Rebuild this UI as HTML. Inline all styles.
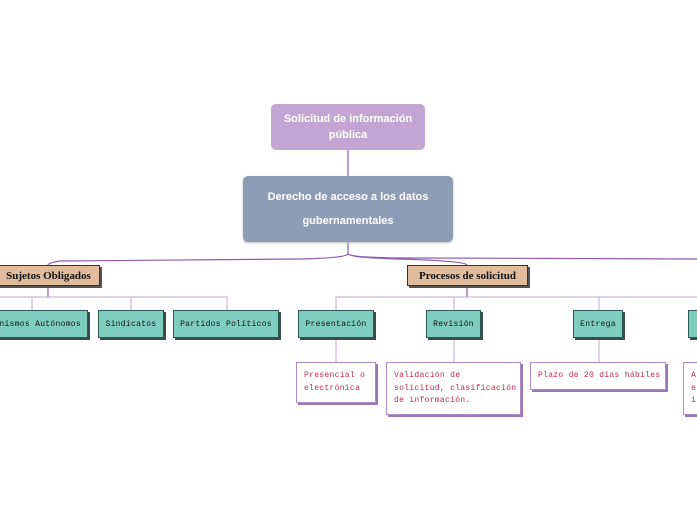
<!DOCTYPE html>
<html><head><meta charset="utf-8"><style>
body{margin:0;width:697px;height:520px;background:#fff;position:relative;overflow:hidden;font-family:"Liberation Sans",sans-serif}
.a{position:absolute;box-sizing:border-box;display:flex;align-items:center;justify-content:center;text-align:center;white-space:nowrap}
.top{left:271px;top:104px;width:154px;height:46px;background:#c3a5d3;border-radius:5px;color:#fff;font-weight:bold;font-size:11px;line-height:16px}
.main{left:243px;top:176px;width:210px;height:66px;background:#8d9db5;border-radius:5px;color:#fff;font-weight:bold;font-size:11px;line-height:24px;box-shadow:0 1px 2px #bbb}
.cat{height:21px;background:#e0bb9c;border:1px solid #333;box-shadow:2px 2px 0 #555;font-family:"Liberation Serif",serif;font-weight:bold;font-size:11px;color:#111}
.t{height:28px;background:#7ecdc0;border:1px solid #2a5a52;box-shadow:2px 2px 0 #3b4b48;font-family:"Liberation Mono",monospace;font-size:8px;letter-spacing:0.3px;color:#111}
.l{background:#fff;border:1px solid #b08ac8;box-shadow:2px 2px 0 #9a78b5;font-family:"Liberation Mono",monospace;font-size:8px;letter-spacing:0.3px;color:#c8284a;text-align:left;justify-content:flex-start;align-items:flex-start;padding:7px 7px;line-height:12.5px;white-space:nowrap}
</style></head><body>
<svg width="697" height="520" style="position:absolute;left:0;top:0">
<g fill="none" stroke="#8e5bb0" stroke-width="1.2">
<line x1="348" y1="150" x2="348" y2="176"/>
<line x1="348" y1="242" x2="348" y2="254"/>
<path d="M348 254 Q345 258 300 259 L60 261 Q48 263 48 265"/>
<path d="M348 254 Q352 258 400 259 Q465 261 467 265"/>
<path d="M348 254 Q352 258 420 258 L697 259"/>
<line x1="48" y1="286" x2="48" y2="297"/>
<line x1="467" y1="286" x2="467" y2="297"/>
</g>
<g fill="none" stroke="#c3a5d3" stroke-width="1">
<path d="M0 297 H227 V310 M32 297 V310 M131 297 V310"/>
<path d="M336 310 V297 H599 V310 M454 297 V310 M599 297 H697"/>
<line x1="336" y1="338" x2="336" y2="362"/>
<line x1="454" y1="338" x2="454" y2="362"/>
<line x1="599" y1="338" x2="599" y2="362"/>
</g>
</svg>
<div class="a top">Solicitud de información<br>pública</div>
<div class="a main">Derecho de acceso a los datos<br>gubernamentales</div>
<div class="a cat" style="left:-3px;top:265px;width:103px">Sujetos Obligados</div>
<div class="a cat" style="left:407px;top:265px;width:121px">Procesos de solicitud</div>
<div class="a t" style="left:-15px;top:310px;width:103px;justify-content:flex-end;padding-right:6px">Organismos Autónomos</div>
<div class="a t" style="left:98px;top:310px;width:66px">Sindicatos</div>
<div class="a t" style="left:173px;top:310px;width:106px">Partidos Políticos</div>
<div class="a t" style="left:298px;top:310px;width:76px">Presentación</div>
<div class="a t" style="left:426px;top:310px;width:55px">Revisión</div>
<div class="a t" style="left:573px;top:310px;width:50px">Entrega</div>
<div class="a t" style="left:688px;top:310px;width:40px"></div>
<div class="a l" style="left:296px;top:362px;width:80px;height:41px">Presencial o<br>electrónica</div>
<div class="a l" style="left:386px;top:362px;width:135px;height:53px">Validación de<br>solicitud, clasificación<br>de información.</div>
<div class="a l" style="left:530px;top:362px;width:136px;height:28px">Plazo de 20 días hábiles</div>
<div class="a l" style="left:683px;top:362px;width:40px;height:53px">A<br>e<br>i</div>
</body></html>
